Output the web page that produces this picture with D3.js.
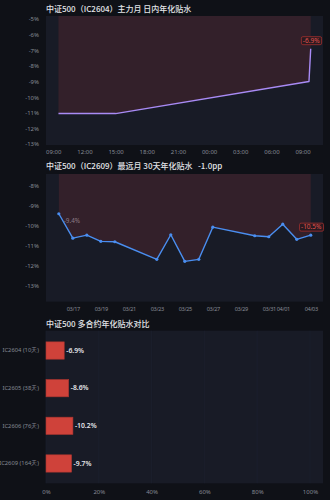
<!DOCTYPE html>
<html>
<head>
<meta charset="utf-8">
<script src="https://cdn.jsdelivr.net/npm/d3@7"></script>
<style>
  html, body { margin: 0; padding: 0; background: #0f1117; }
  svg { display: block; font-family: "Noto Sans CJK SC", "Noto Sans", sans-serif; }
</style>
</head>
<body>
<div id="chart"></div>
<script>
// Intraday basis, IC2604
const intradayTimes = ["2026-04-02T09:30", "2026-04-02T15:00", "2026-04-03T09:37", "2026-04-03T09:47"];
const intradayValues = [-11.05, -11.05, -9.0, -6.9];

// 30-day basis, IC2609
const dailyDates = ["2026-03-16", "2026-03-17", "2026-03-18", "2026-03-19", "2026-03-20",
  "2026-03-23", "2026-03-24", "2026-03-25", "2026-03-26", "2026-03-27",
  "2026-03-30", "2026-03-31", "2026-04-01", "2026-04-02", "2026-04-03"];
const dailyValues = [-9.4, -10.62, -10.47, -10.78, -10.8,
  -11.68, -10.45, -11.78, -11.68, -10.07,
  -10.5, -10.55, -9.92, -10.68, -10.47];

// contract comparison
const contracts = ["IC2604 (10天)", "IC2605 (38天)", "IC2606 (76天)", "IC2609 (164天)"];
const contractValues = [-6.9, -8.6, -10.2, -9.7];

const W = 330, H = 500;
const svg = d3.select("#chart").append("svg")
  .attr("width", W).attr("height", H);

const plotBg = "#181b26";
const fillRed = "#33202a";
const tickColor = "#868a95";
const left = 46, right = 323;

function title(y, text) {
  svg.append("text")
    .attr("x", left).attr("y", y)
    .attr("fill", "#e3e4e8")
    .attr("font-size", 8)
    .attr("font-weight", 500)
    .style("white-space", "pre")
    .text(text);
}

function styleAxis(g) {
  g.select(".domain").remove();
  g.selectAll(".tick line").remove();
  g.selectAll("text").attr("fill", tickColor).attr("font-size", 6)
    .attr("font-family", "Noto Sans, sans-serif");
}

function lineChart(opts) {
  const { top, bottom, x, y, dates, values, color, xTicks, xFormat, yTicks, startLabel } = opts;

  svg.append("rect")
    .attr("x", left).attr("y", top)
    .attr("width", right - left).attr("height", bottom - top)
    .attr("fill", plotBg);

  // red area between line and top
  const area = d3.area()
    .x((d, i) => x(dates[i]))
    .y0(top)
    .y1(d => y(d));
  svg.append("path")
    .datum(values)
    .attr("d", area)
    .attr("fill", fillRed);

  svg.append("g")
    .attr("transform", `translate(${left - 4},0)`)
    .call(d3.axisLeft(y).tickValues(yTicks).tickSize(0).tickFormat(d => d + "%"))
    .call(styleAxis);

  svg.append("g")
    .attr("transform", `translate(0,${bottom + 2})`)
    .call(d3.axisBottom(x).ticks(xTicks).tickSize(0).tickFormat(d3.timeFormat(xFormat)))
    .call(styleAxis)
    .call(g => { if (opts.tightX) g.selectAll("text").attr("font-size", 5.6).attr("letter-spacing", -0.35); });

  const line = d3.line()
    .x((d, i) => x(dates[i]))
    .y(d => y(d));
  svg.append("path")
    .datum(values)
    .attr("d", line)
    .attr("fill", "none")
    .attr("stroke", color)
    .attr("stroke-width", 1.4)
    .attr("stroke-linejoin", "round");

  if (opts.dots) {
    svg.selectAll(null)
      .data(values)
      .join("circle")
      .attr("cx", (d, i) => x(dates[i]))
      .attr("cy", d => y(d))
      .attr("r", 1.6)
      .attr("fill", color);
  }

  if (startLabel) {
    svg.append("text")
      .attr("x", x(dates[0]) + 5)
      .attr("y", y(values[0]) + 9)
      .attr("fill", "#8c7b84")
      .attr("font-size", 6.3)
      .attr("font-family", "Noto Sans, sans-serif")
      .text(values[0].toFixed(1) + "%");
  }

  // last value badge
  const lx = x(dates[dates.length - 1]);
  const ly = y(values[values.length - 1]) - 8;
  const txt = values[values.length - 1].toFixed(1) + "%";
  const badge = svg.append("g");
  const t = badge.append("text")
    .attr("x", lx + 0.5).attr("y", ly + 2.3)
    .attr("text-anchor", "middle")
    .attr("fill", "#e0524e")
    .attr("font-size", 6.5)
    .attr("font-family", "Noto Sans, sans-serif")
    .text(txt);
  const bb = t.node().getBBox();
  badge.insert("rect", "text")
    .attr("x", bb.x - 1.5).attr("y", ly - 4)
    .attr("width", bb.width + 3).attr("height", 8)
    .attr("rx", 1.5)
    .attr("fill", "#2a1a20")
    .attr("stroke", "#a3302f")
    .attr("stroke-width", 0.8);
}

// Chart 1
title(12, "中证500（IC2604）主力月 日内年化贴水");
const parseT = d3.timeParse("%Y-%m-%dT%H:%M");
const x1 = d3.scaleTime()
  .domain([parseT("2026-04-02T08:18"), parseT("2026-04-03T10:58")])
  .range([left, right]);
const y1 = d3.scaleLinear().domain([-13.06, -4.81]).range([145, 16]);
lineChart({
  top: 16, bottom: 145, x: x1, y: y1,
  dates: intradayTimes.map(parseT), values: intradayValues,
  color: "#a98bf5", xTicks: d3.timeHour.every(3), xFormat: "%H:%M",
  yTicks: d3.range(-13, -4, 1), dots: false, startLabel: false
});

// Chart 2
title(169, "中证500（IC2609）最远月 30天年化贴水   -1.0pp");
const parseD = d3.timeParse("%Y-%m-%d");
const x2 = d3.scaleTime()
  .domain([d3.timeHour.offset(parseD("2026-03-16"), -21.4), d3.timeHour.offset(parseD("2026-04-03"), 21.1)])
  .range([left, right]);
const y2 = d3.scaleLinear().domain([-13.8, -7.41]).range([301.7, 174]);
lineChart({
  top: 174, bottom: 301.7, x: x2, y: y2,
  dates: dailyDates.map(parseD), values: dailyValues,
  color: "#4a8ef0", xTicks: d3.timeDay.every(2), xFormat: "%m/%d",
  yTicks: d3.range(-13, -7, 1), dots: true, startLabel: true, tightX: true
});

// Chart 3
title(327, "中证500 多合约年化贴水对比");
const top3 = 330.7, bottom3 = 483.3;
svg.append("rect")
  .attr("x", left).attr("y", top3)
  .attr("width", right - left).attr("height", bottom3 - top3)
  .attr("fill", plotBg);

const x3 = d3.scaleLinear().domain([0, 100]).range([left, 310]);
const y3 = d3.scaleBand().domain(contracts).range([top3 + 1, bottom3 - 1]).paddingInner(0.54).paddingOuter(0.27);

svg.append("g")
  .selectAll("line")
  .data(x3.ticks(5))
  .join("line")
  .attr("x1", d => x3(d)).attr("x2", d => x3(d))
  .attr("y1", top3).attr("y2", bottom3)
  .attr("stroke", "#1d2130")
  .attr("stroke-width", 0.6);

svg.append("g")
  .attr("transform", `translate(0,${bottom3 + 3})`)
  .call(d3.axisBottom(x3).ticks(5).tickSize(0).tickFormat(d => d + "%"))
  .call(styleAxis);

svg.append("g")
  .attr("transform", `translate(${left - 4},0)`)
  .call(d3.axisLeft(y3).tickSize(0))
  .call(styleAxis)
  .call(g => g.selectAll("text").attr("font-size", 5.8));

svg.selectAll(".bar")
  .data(contractValues)
  .join("rect")
  .attr("class", "bar")
  .attr("x", x3(0))
  .attr("y", (d, i) => y3(contracts[i]))
  .attr("width", d => x3(Math.abs(d)) - x3(0))
  .attr("height", y3.bandwidth())
  .attr("fill", "#cf423a")
  .attr("stroke", "#a83530")
  .attr("stroke-width", 0.6);

svg.selectAll(".barlabel")
  .data(contractValues)
  .join("text")
  .attr("class", "barlabel")
  .attr("x", d => x3(Math.abs(d)) + 2)
  .attr("y", (d, i) => y3(contracts[i]) + y3.bandwidth() / 2 + 2.3)
  .attr("fill", "#e6e6ea")
  .attr("font-size", 6.8)
  .attr("font-weight", 600)
  .attr("font-family", "Noto Sans, sans-serif")
  .text(d => d.toFixed(1) + "%");
</script>
</body>
</html>
